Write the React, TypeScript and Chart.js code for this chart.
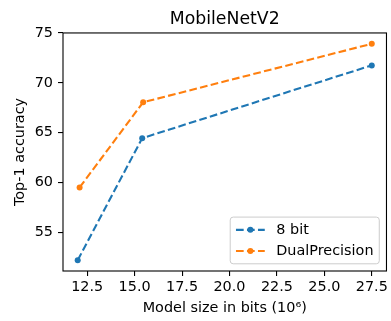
import React, { useEffect, useRef } from "react";
import { Chart, registerables } from "chart.js";

Chart.register(...registerables);

const chartTitle = "MobileNetV2";
const xAxisLabel = "Model size in bits (10⁶)";
const yAxisLabel = "Top-1 accuracy";
const seriesNames = ["8 bit", "DualPrecision"];
const seriesColors = ["#1f77b4", "#ff7f0e"];
const eightBitX = [12.0, 15.4, 27.5];
const eightBitY = [52.2, 64.45, 71.75];
const dualX = [12.1, 15.45, 27.5];
const dualY = [59.5, 68.05, 73.92];
const xTicks = [12.5, 15.0, 17.5, 20.0, 22.5, 25.0, 27.5];
const yTicks = [55, 60, 65, 70, 75];

const FONT = "'DejaVu Sans', sans-serif";
const FS = 14.4;
const TITLE_FS = 17.3;

function margins(vals: number[]) {
  const lo = Math.min(...vals);
  const hi = Math.max(...vals);
  const m = (hi - lo) * 0.05;
  return [lo - m, hi + m];
}

const framePlugin = {
  id: "frame",
  afterDraw(chart: any) {
    const { ctx, chartArea } = chart;
    ctx.save();
    ctx.strokeStyle = "#000";
    ctx.lineWidth = 1.1;
    ctx.strokeRect(chartArea.left, chartArea.top, chartArea.right - chartArea.left, chartArea.bottom - chartArea.top);
    ctx.restore();
  },
};

const legendPlugin = {
  id: "mplLegend",
  afterDraw(chart: any) {
    const { ctx, chartArea } = chart;
    ctx.save();
    ctx.font = `${FS}px ${FONT}`;
    const pad = 0.4 * FS;
    const handleLen = 2 * FS;
    const textPad = 0.8 * FS;
    const rowH = 14;
    const spacing = 0.5 * FS;
    const axPad = 0.5 * FS;
    const dsets = chart.data.datasets;
    const tw = Math.max(...dsets.map((d: any) => ctx.measureText(d.label).width));
    const w = pad + handleLen + textPad + tw + pad;
    const h = 2 * pad + dsets.length * rowH + (dsets.length - 1) * spacing;
    const right = chartArea.right - axPad;
    const bottom = chartArea.bottom - axPad;
    const left = right - w;
    const top = bottom - h;
    ctx.beginPath();
    ctx.roundRect(left, top, w, h, 3);
    ctx.fillStyle = "rgba(255,255,255,0.8)";
    ctx.fill();
    ctx.strokeStyle = "#cccccc";
    ctx.lineWidth = 1;
    ctx.stroke();
    dsets.forEach((d: any, i: number) => {
      const cy = top + pad + rowH / 2 + i * (rowH + spacing);
      const x0 = left + pad;
      const x1 = x0 + handleLen;
      ctx.setLineDash(d.borderDash);
      ctx.strokeStyle = d.borderColor;
      ctx.lineWidth = d.borderWidth;
      ctx.beginPath();
      ctx.moveTo(x0, cy);
      ctx.lineTo(x1, cy);
      ctx.stroke();
      ctx.setLineDash([]);
      ctx.beginPath();
      ctx.arc((x0 + x1) / 2, cy, d.pointRadius, 0, 2 * Math.PI);
      ctx.fillStyle = d.borderColor;
      ctx.fill();
      ctx.fillStyle = "#000";
      ctx.textBaseline = "middle";
      ctx.textAlign = "left";
      ctx.fillText(d.label, x1 + textPad, cy);
    });
    ctx.restore();
  },
};

export default function App() {
  const ref = useRef<HTMLCanvasElement | null>(null);
  useEffect(() => {
    if (!ref.current) return;
    const [xMin, xMax] = margins([...eightBitX, ...dualX]);
    const [yMin, yMax] = margins([...eightBitY, ...dualY]);
    const mk = (xs: number[], ys: number[]) => xs.map((x, i) => ({ x, y: ys[i] }));
    const ds = (i: number, data: any[]) => ({
      label: seriesNames[i],
      data,
      borderColor: seriesColors[i],
      backgroundColor: seriesColors[i],
      borderWidth: 2.1,
      borderDash: [7.7, 3.3],
      pointRadius: 3,
      pointBorderWidth: 0,
      pointBackgroundColor: seriesColors[i],
      tension: 0,
      fill: false,
    });
    const chart = new Chart(ref.current, {
      type: "line",
      data: {
        datasets: [ds(0, mk(eightBitX, eightBitY)), ds(1, mk(dualX, dualY))],
      },
      plugins: [framePlugin, legendPlugin],
      options: {
        responsive: false,
        animation: false,
        devicePixelRatio: 1,
        layout: { padding: { left: 0, right: 2, top: 0, bottom: 0 } },
        plugins: {
          legend: { display: false },
          tooltip: { enabled: false },
          title: {
            display: true,
            fullSize: false,
            text: chartTitle,
            color: "#000",
            font: { family: FONT, size: TITLE_FS, weight: "normal", lineHeight: 1.2 },
            padding: { top: 8.8, bottom: 3.4 },
          },
        },
        scales: {
          x: {
            type: "linear",
            min: xMin,
            max: xMax,
            afterBuildTicks: (s: any) => {
              s.ticks = xTicks.map((v) => ({ value: v }));
            },
            afterFit: (s: any) => {
              s.height = 50;
            },
            grid: { drawOnChartArea: false, drawTicks: true, tickLength: 5, color: "#000", lineWidth: 1.1 },
            border: { display: false },
            ticks: {
              color: "#000",
              font: { family: FONT, size: FS },
              padding: 3,
              maxRotation: 0,
              autoSkip: false,
              callback: (v: any) => Number(v).toFixed(1),
            },
            title: {
              display: true,
              text: xAxisLabel,
              color: "#000",
              font: { family: FONT, size: FS },
              padding: { top: 0, bottom: 4.4 },
            },
          },
          y: {
            type: "linear",
            min: yMin,
            max: yMax,
            afterBuildTicks: (s: any) => {
              s.ticks = yTicks.map((v) => ({ value: v }));
            },
            afterFit: (s: any) => {
              s.width = 63;
            },
            grid: { drawOnChartArea: false, drawTicks: true, tickLength: 5, color: "#000", lineWidth: 1.1 },
            border: { display: false },
            ticks: {
              color: "#000",
              font: { family: FONT, size: FS },
              padding: 5,
              autoSkip: false,
              callback: (v: any) => String(v),
            },
            title: {
              display: true,
              text: yAxisLabel,
              color: "#000",
              font: { family: FONT, size: FS },
              padding: { top: 12, bottom: 0 },
            },
          },
        },
      },
    });
    return () => chart.destroy();
  }, []);
  return (
    <div style={{ position: "fixed", left: 0, top: 0, width: 391, height: 321, background: "#fff" }}>
      <canvas ref={ref} width={391} height={321} style={{ display: "block", width: 391, height: 321 }} />
    </div>
  );
}
